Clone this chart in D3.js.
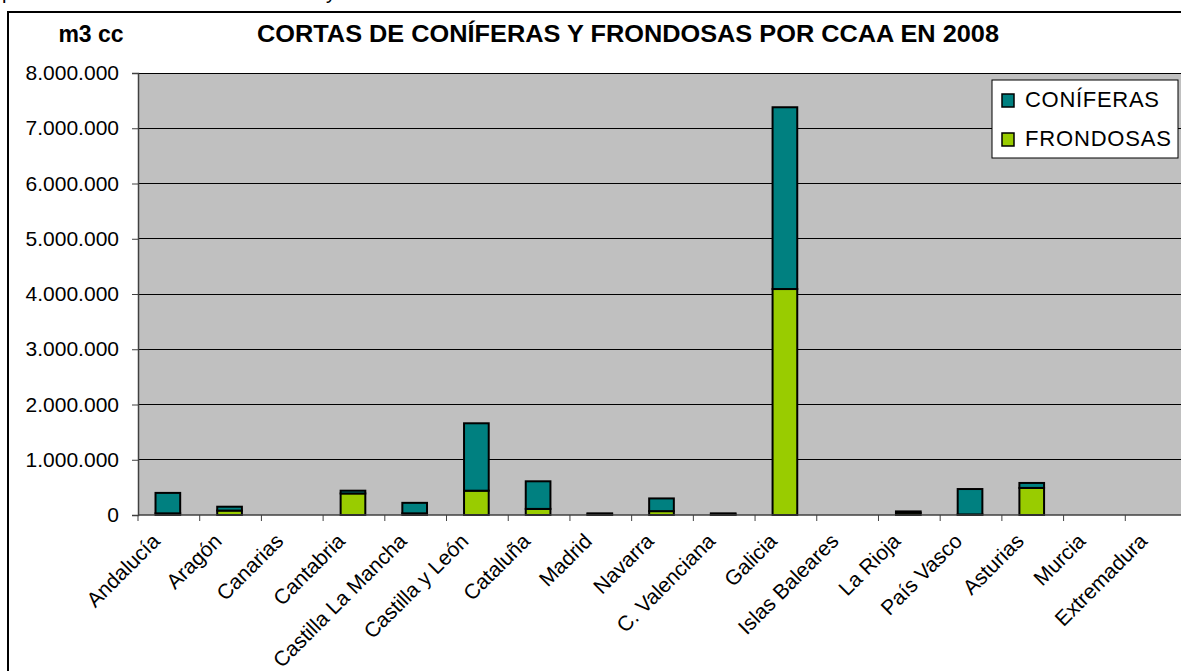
<!DOCTYPE html>
<html>
<head>
<meta charset="utf-8">
<script src="https://cdn.jsdelivr.net/npm/d3@7"></script>
<style>
  body { margin: 0; background: #fff; }
  svg { display: block; font-family: "Liberation Sans", Arial, sans-serif; }
</style>
</head>
<body>
<div id="chart"></div>
<script>
const regiones = [
  "Andalucía", "Aragón", "Canarias", "Cantabria", "Castilla La Mancha",
  "Castilla y León", "Cataluña", "Madrid", "Navarra", "C. Valenciana",
  "Galicia", "Islas Baleares", "La Rioja", "País Vasco", "Asturias",
  "Murcia", "Extremadura"
];
const coniferas = [
  370000, 70000, 0, 50000, 190000,
  1220000, 500000, 20000, 230000, 20000,
  3290000, 0, 25000, 460000, 90000,
  0, 0
];
const frondosas = [
  30000, 80000, 0, 390000, 30000,
  440000, 110000, 10000, 70000, 10000,
  4090000, 0, 40000, 10000, 490000,
  0, 0
];
const yTicks = [0, 1000000, 2000000, 3000000, 4000000, 5000000, 6000000, 7000000, 8000000];
const series = ["FRONDOSAS", "CONÍFERAS"];
const colores = { "CONÍFERAS": "#008080", "FRONDOSAS": "#99CC00" };

const W = 1181, H = 671;
const pLeft = 138, pRight = 1187, pTop = 73, pBottom = 515;

const svg = d3.select("#chart").append("svg")
  .attr("width", W)
  .attr("height", H);

// cut text from above the chart
svg.append("text").attr("x", 2).attr("y", -1).attr("font-size", 20).text("p");
svg.append("text").attr("x", 326).attr("y", -1).attr("font-size", 20).text("y");

// outer frame
svg.append("rect")
  .attr("x", 8).attr("y", 12)
  .attr("width", W + 20).attr("height", H + 20)
  .attr("fill", "#fff")
  .attr("stroke", "#000")
  .attr("stroke-width", 2);

const x = d3.scaleBand().domain(regiones).range([pLeft, pRight]).paddingInner(0).paddingOuter(0);
const y = d3.scaleLinear().domain([0, 8000000]).range([pBottom, pTop]);

// plot area
svg.append("rect")
  .attr("x", pLeft).attr("y", pTop)
  .attr("width", pRight - pLeft).attr("height", pBottom - pTop)
  .attr("fill", "#C0C0C0");

// gridlines
svg.append("g")
  .selectAll("line")
  .data(yTicks.filter(d => d > 0))
  .enter().append("line")
  .attr("x1", pLeft).attr("x2", pRight)
  .attr("y1", d => y(d)).attr("y2", d => y(d))
  .attr("stroke", "#000")
  .attr("stroke-width", 1)
  .attr("shape-rendering", "crispEdges");

const fmt = d => d3.format(",")(d).replace(/,/g, ".");

// y axis
const yAxis = svg.append("g")
  .attr("transform", "translate(" + pLeft + ",0)")
  .call(d3.axisLeft(y).tickValues(yTicks).tickFormat(fmt).tickSize(6).tickPadding(13));
yAxis.select(".domain").attr("stroke", "#404040").attr("stroke-width", 1.5);
yAxis.selectAll(".tick line").attr("stroke", "#404040");
yAxis.selectAll("text")
  .attr("font-size", 21)
  .attr("fill", "#000")
  .attr("font-family", "Liberation Sans, Arial, sans-serif");

// stacked bars
const rows = regiones.map((r, i) => ({ region: r, "CONÍFERAS": coniferas[i], "FRONDOSAS": frondosas[i] }));
const stacked = d3.stack().keys(series)(rows);
const bw = x.bandwidth() * 0.4;

svg.append("g")
  .selectAll("g")
  .data(stacked)
  .enter().append("g")
  .attr("fill", d => colores[d.key])
  .selectAll("rect")
  .data(d => d.filter(p => p[1] - p[0] > 0))
  .enter().append("rect")
  .attr("x", d => x(d.data.region) + (x.bandwidth() - bw) / 2 - 1)
  .attr("width", bw)
  .attr("y", d => y(d[1]))
  .attr("height", d => y(d[0]) - y(d[1]))
  .attr("stroke", "#000")
  .attr("stroke-width", 2);

// x axis
const xAxis = svg.append("g")
  .attr("transform", "translate(0," + pBottom + ")");
xAxis.append("line")
  .attr("x1", pLeft).attr("x2", pRight)
  .attr("stroke", "#404040").attr("stroke-width", 1.5);
xAxis.selectAll(".tk")
  .data(d3.range(regiones.length + 1))
  .enter().append("line")
  .attr("x1", i => pLeft + i * x.step()).attr("x2", i => pLeft + i * x.step())
  .attr("y1", 0).attr("y2", 6)
  .attr("stroke", "#404040");
xAxis.selectAll("text")
  .data(regiones)
  .enter().append("text")
  .attr("transform", d => "translate(" + (x(d) + x.bandwidth() / 2 - 18) + ",17)rotate(-45)")
  .attr("text-anchor", "end")
  .attr("dy", "0.7em")
  .attr("font-size", 21)
  .text(d => d);

// titles
svg.append("text")
  .attr("x", 628).attr("y", 42)
  .attr("text-anchor", "middle")
  .attr("font-size", 23)
  .attr("font-weight", "bold")
  .attr("textLength", 742)
  .attr("lengthAdjust", "spacingAndGlyphs")
  .text("CORTAS DE CONÍFERAS Y FRONDOSAS POR CCAA EN 2008");
svg.append("text")
  .attr("x", 91).attr("y", 42)
  .attr("text-anchor", "middle")
  .attr("font-size", 23)
  .attr("font-weight", "bold")
  .text("m3 cc");

// legend
const legendText = { "CONÍFERAS": 134, "FRONDOSAS": 146 };
const legend = svg.append("g").attr("transform", "translate(992,80)");
legend.append("rect")
  .attr("width", 186).attr("height", 78)
  .attr("fill", "#fff").attr("stroke", "#000").attr("stroke-width", 1);
const items = legend.selectAll(".item")
  .data(["CONÍFERAS", "FRONDOSAS"])
  .enter().append("g")
  .attr("transform", (d, i) => "translate(0," + (i * 39) + ")");
items.append("rect")
  .attr("x", 10).attr("y", 14)
  .attr("width", 12).attr("height", 13)
  .attr("fill", d => colores[d])
  .attr("stroke", "#000").attr("stroke-width", 1.5);
items.append("text")
  .attr("x", 33).attr("y", 27)
  .attr("font-size", 22)
  .attr("textLength", d => legendText[d])
  .attr("lengthAdjust", "spacing")
  .text(d => d);
</script>
</body>
</html>
